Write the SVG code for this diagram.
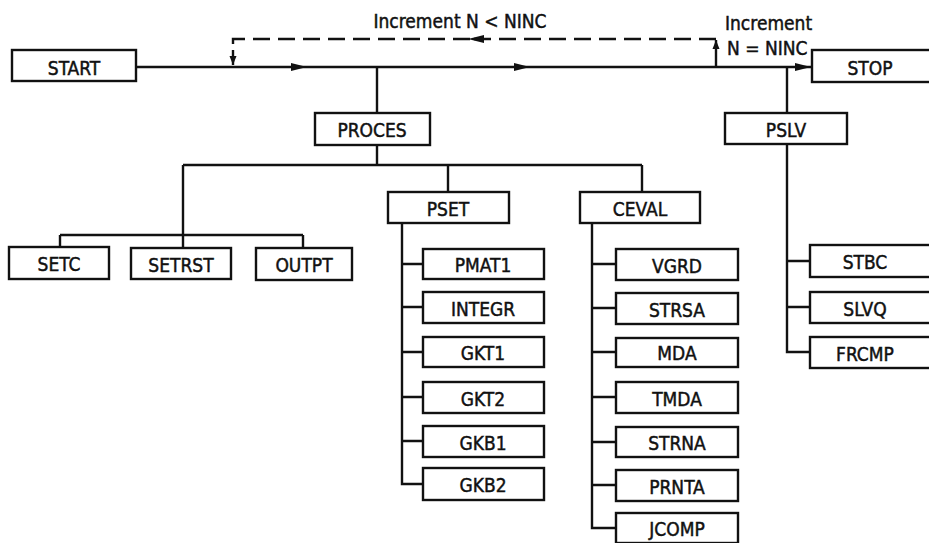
<svg xmlns="http://www.w3.org/2000/svg" width="929" height="543" viewBox="0 0 929 543">
<style>
  .box { fill: #fff; stroke: #111; stroke-width: 2.4; }
  .lbl { font-family: "DejaVu Sans Condensed", "DejaVu Sans", "Liberation Sans", sans-serif; font-size: 19px; fill: #111; stroke: #111; stroke-width: 0.45; text-anchor: middle; }
  .note { font-family: "DejaVu Sans Condensed", "DejaVu Sans", "Liberation Sans", sans-serif; font-size: 19px; fill: #111; stroke: #111; stroke-width: 0.45; }
  .ln { fill: none; stroke: #111; stroke-width: 2.4; }
  .dash { fill: none; stroke: #111; stroke-width: 2.4; stroke-dasharray: 17 8; }
</style>
<defs>
  <marker id="arr" markerUnits="userSpaceOnUse" markerWidth="17" markerHeight="10" refX="16" refY="5" orient="auto">
    <path d="M0,1 L16,5 L0,9 Z" fill="#111"/>
  </marker>
  <marker id="arrs" markerUnits="userSpaceOnUse" markerWidth="10" markerHeight="8" refX="9" refY="4" orient="auto">
    <path d="M0,0.5 L9,4 L0,7.5 Z" fill="#111"/>
  </marker>
</defs>
<rect width="929" height="543" fill="#fff"/>
<g id="connectors">
  <path class="ln" d="M136,67 H307" marker-end="url(#arr)"/>
  <path class="ln" d="M307,67 H530" marker-end="url(#arr)"/>
  <path class="ln" d="M530,67 H811" marker-end="url(#arr)"/>
  <path class="ln" d="M716,67 V40" marker-end="url(#arrs)"/>
  <path class="dash" d="M716,39 H468" marker-end="url(#arr)"/>
  <path class="dash" d="M470,39 H233 V50"/>
  <path class="ln" d="M233,50 V65" marker-end="url(#arrs)"/>
  <path class="ln" d="M377,67 V113 M377,145 V165 M183,165 H642"/>
  <path class="ln" d="M183,165 V248 M60,235 H303 M60,235 V247 M303,235 V248"/>
  <path class="ln" d="M448,165 V192 M642,165 V192"/>
  <path class="ln" d="M402,223 V484 H423 M402,264 H423 M402,307 H423 M402,352 H423 M402,397 H423 M402,441 H423"/>
  <path class="ln" d="M592,223 V528 H616 M592,264 H616 M592,308 H616 M592,352 H616 M592,397 H616 M592,442 H616 M592,485 H616"/>
  <path class="ln" d="M787,67 V113 M787,144 V352 H810 M787,261 H810 M787,307 H810"/>
</g>
<g id="notes">
  <text class="note" x="460" y="28" text-anchor="middle">Increment N &lt; NINC</text>
  <text class="note" x="725" y="30">Increment</text>
  <text class="note" x="727" y="55">N = NINC</text>
</g>
<g id="START"><rect class="box" x="12" y="50" width="124" height="31"/><text class="lbl" x="74" y="75">START</text></g>
<g id="STOP"><rect class="box" x="812" y="50" width="130" height="32"/><text class="lbl" x="870" y="75">STOP</text></g>
<g id="PROCES"><rect class="box" x="315" y="113" width="115" height="32"/><text class="lbl" x="372" y="137">PROCES</text></g>
<g id="PSLV"><rect class="box" x="725" y="113" width="122" height="31"/><text class="lbl" x="786" y="137">PSLV</text></g>
<g id="SETC"><rect class="box" x="9" y="247" width="100" height="32"/><text class="lbl" x="59" y="271">SETC</text></g>
<g id="SETRST"><rect class="box" x="131" y="248" width="100" height="31"/><text class="lbl" x="181" y="272">SETRST</text></g>
<g id="OUTPT"><rect class="box" x="256" y="248" width="96" height="32"/><text class="lbl" x="304" y="272">OUTPT</text></g>
<g id="PSET"><rect class="box" x="388" y="192" width="121" height="31"/><text class="lbl" x="448" y="216">PSET</text></g>
<g id="CEVAL"><rect class="box" x="580" y="192" width="120" height="31"/><text class="lbl" x="640" y="216">CEVAL</text></g>
<g id="PMAT1"><rect class="box" x="423" y="249" width="121" height="30"/><text class="lbl" x="483" y="272">PMAT1</text></g>
<g id="INTEGR"><rect class="box" x="423" y="292" width="121" height="31"/><text class="lbl" x="483" y="316">INTEGR</text></g>
<g id="GKT1"><rect class="box" x="423" y="337" width="121" height="30"/><text class="lbl" x="483" y="360">GKT1</text></g>
<g id="GKT2"><rect class="box" x="423" y="382" width="121" height="31"/><text class="lbl" x="483" y="406">GKT2</text></g>
<g id="GKB1"><rect class="box" x="423" y="426" width="121" height="31"/><text class="lbl" x="483" y="450">GKB1</text></g>
<g id="GKB2"><rect class="box" x="423" y="468" width="121" height="32"/><text class="lbl" x="483" y="492">GKB2</text></g>
<g id="VGRD"><rect class="box" x="616" y="249" width="122" height="31"/><text class="lbl" x="677" y="273">VGRD</text></g>
<g id="STRSA"><rect class="box" x="616" y="293" width="122" height="31"/><text class="lbl" x="677" y="317">STRSA</text></g>
<g id="MDA"><rect class="box" x="616" y="338" width="122" height="29"/><text class="lbl" x="677" y="360">MDA</text></g>
<g id="TMDA"><rect class="box" x="616" y="382" width="122" height="31"/><text class="lbl" x="677" y="406">TMDA</text></g>
<g id="STRNA"><rect class="box" x="616" y="427" width="122" height="30"/><text class="lbl" x="677" y="450">STRNA</text></g>
<g id="PRNTA"><rect class="box" x="616" y="470" width="122" height="31"/><text class="lbl" x="677" y="494">PRNTA</text></g>
<g id="JCOMP"><rect class="box" x="616" y="513" width="122" height="30"/><text class="lbl" x="677" y="536">JCOMP</text></g>
<g id="STBC"><rect class="box" x="810" y="245" width="130" height="32"/><text class="lbl" x="865" y="269">STBC</text></g>
<g id="SLVQ"><rect class="box" x="810" y="292" width="130" height="31"/><text class="lbl" x="865" y="316">SLVQ</text></g>
<g id="FRCMP"><rect class="box" x="810" y="337" width="130" height="31"/><text class="lbl" x="865" y="361">FRCMP</text></g>
</svg>
